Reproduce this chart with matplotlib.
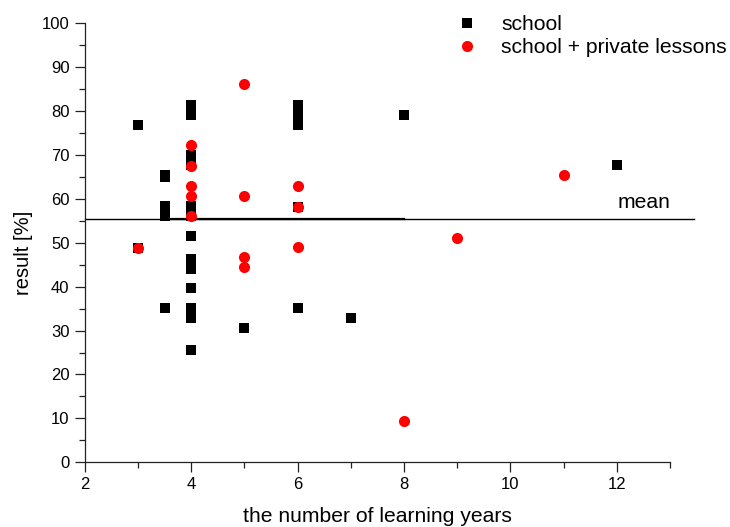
import matplotlib
matplotlib.use("Agg")
import matplotlib.pyplot as plt
from matplotlib.ticker import MultipleLocator

plt.rcParams["font.family"] = ["Liberation Sans", "DejaVu Sans"]

# school only
school_years = [3, 3, 3.5, 3.5, 3.5, 3.5, 3.5,
                4, 4, 4, 4, 4, 4, 4, 4, 4, 4, 4, 4, 4,
                5, 6, 6, 6, 6, 6, 7, 8, 12]
school_result = [76.8, 48.9, 65.4, 65.0, 58.3, 56.0, 35.1,
                 81.3, 79.1, 70.1, 67.8, 58.3, 56.0, 51.5, 46.4, 44.1, 39.6, 35.1, 32.8, 25.5,
                 30.5, 81.3, 79.1, 76.8, 58.1, 35.1, 32.8, 79.1, 67.7]

# school + private lessons
private_years = [3, 4, 4, 4, 4, 4, 5, 5, 5, 5, 6, 6, 6, 8, 9, 11]
private_result = [48.9, 72.3, 67.6, 63.0, 60.6, 56.0, 86.1, 60.6, 46.8, 44.5,
                  63.0, 58.1, 49.0, 9.3, 51.2, 65.4]

mean_value = 55.5

FS = 15.2

fig = plt.figure(figsize=(7.3, 5.27), dpi=100)
ax = fig.add_axes([0.116, 0.1228, 0.802, 0.833])

ax.plot([2, 13.44], [mean_value, mean_value], color="black", lw=1.0, clip_on=False, zorder=1)
ax.plot([3.6, 8], [mean_value, mean_value], color="black", lw=1.6, zorder=1)
ax.text(12.02, 57.9, "mean", fontsize=FS, ha="left", va="baseline")

ax.plot(school_years, school_result, "s", color="black", ms=6.5, mew=0,
        label="school", zorder=3, clip_on=False)
ax.plot(private_years, private_result, "o", color="red", ms=8, mew=0,
        label="school + private lessons", zorder=4, clip_on=False)

ax.set_xlim(2, 13)
ax.set_ylim(0, 100)
ax.xaxis.set_major_locator(MultipleLocator(2))
ax.xaxis.set_minor_locator(MultipleLocator(1))
ax.yaxis.set_major_locator(MultipleLocator(10))
ax.yaxis.set_minor_locator(MultipleLocator(5))

for side in ["top", "right"]:
    ax.spines[side].set_visible(False)
for side in ["left", "bottom"]:
    ax.spines[side].set_linewidth(0.9)
    ax.spines[side].set_color("#222222")

ax.tick_params(which="major", direction="out", length=7.5, width=0.9, labelsize=12, color="#222222")
ax.tick_params(which="minor", direction="out", length=4, width=0.9, color="#222222")
ax.tick_params(axis="x", pad=3)

ax.set_xlabel("the number of learning years", fontsize=FS, labelpad=11)
ax.set_ylabel("result [%]", fontsize=14.5)
ax.yaxis.set_label_coords(-0.0883, 0.478)

ax.legend(loc="upper left", bbox_to_anchor=(0.617, 1.019), frameon=False,
          fontsize=FS, handletextpad=0.63, labelspacing=0.2, borderaxespad=0,
          borderpad=0)

fig.savefig("out.png", dpi=100)
